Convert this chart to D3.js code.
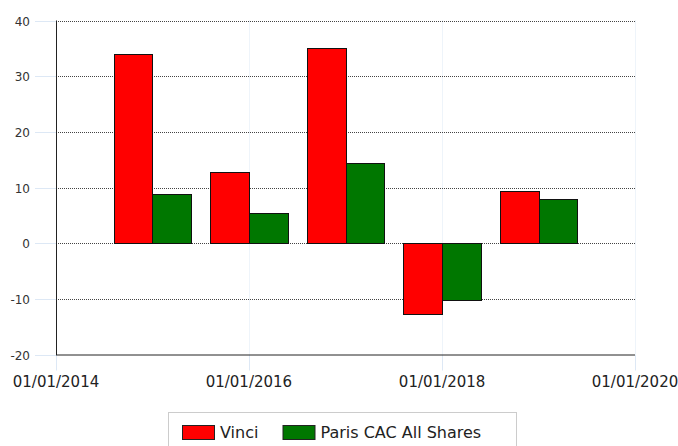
<!DOCTYPE html>
<html><head><meta charset="utf-8">
<script src="https://cdn.jsdelivr.net/npm/d3@7"></script>
<style>
html,body{margin:0;padding:0;background:#fff;}
svg{display:block;font-family:"DejaVu Sans",Verdana,sans-serif;}
</style></head>
<body><svg id="c" width="678" height="446"></svg>
<script>
const periods = ["2015-01-01","2016-01-01","2017-01-01","2018-01-01","2019-01-01"];
const seriesNames = ["Vinci","Paris CAC All Shares"];
const vinci = [34.0, 12.7, 35.1, -12.8, 9.3];
const cac = [8.85, 5.5, 14.4, -10.2, 7.9];
const colors = ["#ff0000","#007700"];
const yTicks = [-20,-10,0,10,20,30,40];
const xTicks = ["2014-01-01","2016-01-01","2018-01-01","2020-01-01"];

const parse = d3.timeParse("%Y-%m-%d");
const fmt = d3.timeFormat("%d/%m/%Y");
const svg = d3.select("#c");
const L=56, R=635, T=20.5, B=354.5;
const x = d3.scaleTime().domain([parse("2014-01-01"), parse("2020-01-01")]).range([L,R]);
const y = d3.scaleLinear().domain([-20,40]).range([B,T]);
const yearW = (R-L)/6;
const barW = yearW*0.4;

// vertical light grid + ticks
xTicks.forEach(t=>{
  const xx = Math.round(x(parse(t)))+0.5;
  svg.append("line").attr("x1",xx).attr("x2",xx).attr("y1",T).attr("y2",B)
    .attr("stroke","#dde8f5").attr("stroke-dasharray","1,1");
  svg.append("line").attr("x1",xx).attr("x2",xx).attr("y1",B).attr("y2",B+16)
    .attr("stroke","#dde8f5");
});
// horizontal grid
yTicks.filter(v=>v>-20).forEach(v=>{
  const yy = Math.round(y(v))+0.5;
  svg.append("line").attr("x1",L).attr("x2",R).attr("y1",yy).attr("y2",yy)
    .attr("stroke","#444").attr("stroke-dasharray","1,1");
});
// y tick marks (light blue) + labels
yTicks.forEach(v=>{
  const yy = Math.round(y(v))+0.5;
  svg.append("line").attr("x1",35).attr("x2",L).attr("y1",yy).attr("y2",yy)
    .attr("stroke","#dde8f5");
  svg.append("text").attr("x",30).attr("y",yy+4.5).attr("text-anchor","end")
    .attr("font-size",12).attr("fill","#333").text(v);
});
// bars
const data = periods.map((p,i)=>({d:parse(p), vals:[vinci[i],cac[i]]}));
const y0 = Math.round(y(0));
data.forEach(g=>{
  g.vals.forEach((v,k)=>{
    const x0 = Math.round(x(g.d) - barW + k*barW);
    const x1 = Math.round(x(g.d) + k*barW);
    const yv = Math.round(y(v));
    svg.append("rect")
      .attr("x",x0+0.5).attr("width",x1-x0)
      .attr("y",Math.min(yv,y0)+0.5)
      .attr("height",Math.abs(yv-y0))
      .attr("fill",colors[k]).attr("stroke","#111").attr("stroke-width",1);
  });
});
// axes lines
svg.append("line").attr("x1",L+0.5).attr("x2",L+0.5).attr("y1",T).attr("y2",B+0.5).attr("stroke","#222");
svg.append("line").attr("x1",L).attr("x2",R).attr("y1",B+0.5).attr("y2",B+0.5).attr("stroke","#222");
// x labels
xTicks.forEach(t=>{
  svg.append("text").attr("x",x(parse(t))).attr("y",387).attr("text-anchor","middle")
    .attr("font-size",15).attr("fill","#222").text(fmt(parse(t)));
});
// legend
svg.append("rect").attr("x",168.5).attr("y",412.5).attr("width",348).attr("height",40)
  .attr("fill","#fff").attr("stroke","#ccc");
const lx = [182, 282.5];
seriesNames.forEach((n,k)=>{
  svg.append("rect").attr("x",lx[k]+0.5).attr("y",425.5).attr("width",32).attr("height",14)
    .attr("fill",colors[k]).attr("stroke","#222");
  svg.append("text").attr("x",lx[k]+38).attr("y",438).attr("font-size",16).attr("fill","#222").text(n);
});
</script></body></html>
